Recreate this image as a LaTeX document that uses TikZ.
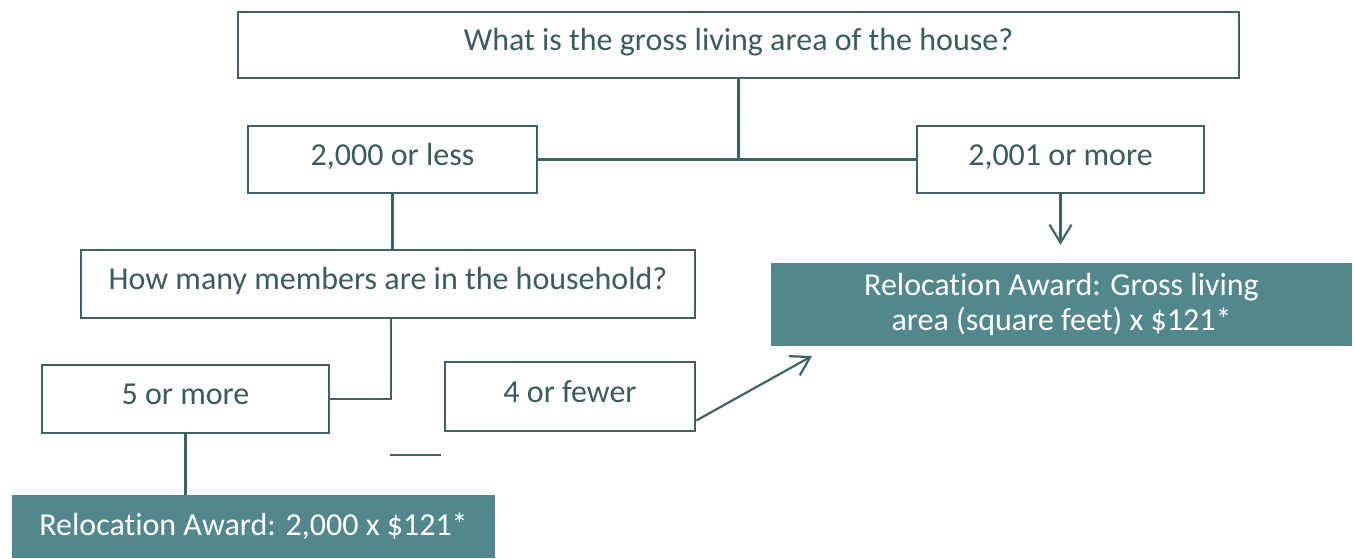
\documentclass[tikz,border=0pt]{standalone}
\usepackage{fontspec}
\setmainfont{Carlito}[Ligatures=CommonOff]
\usetikzlibrary{positioning,arrows.meta}
\definecolor{linec}{HTML}{3F6468}
\definecolor{txtc}{HTML}{3A5C60}
\definecolor{tealc}{HTML}{52878D}

\begin{document}
\begin{tikzpicture}[x=1pt, y=-1pt,
    box/.style={draw=linec, line width=2.6pt, fill=white, text=txtc,
        font=\fontsize{32}{39}\selectfont, inner sep=0pt,
        text height=21pt, text depth=10pt},
    award/.style={fill=tealc, text=white, align=center,
        font=\fontsize{32}{35}\selectfont, inner sep=0pt},
    link/.style={draw=linec, line width=2.2pt},
    ]
\useasboundingbox (0,0) rectangle (1354,558);

\node[box, minimum width=1001pt, minimum height=66pt] (area) at (738.5,45) {What is the gross living area of the house?};
\node[box, minimum width=289pt, minimum height=67pt] (less) at (392.5,159.5) {2,000 or less};
\node[box, minimum width=287pt, minimum height=67pt] (more) at (1060.5,159.5) {2,001 or more};
\node[box, minimum width=614pt, minimum height=68pt] (members) at (388,284) {How many members are in the household?};
\node[award, minimum width=581pt, minimum height=83pt] (awardR) at (1061.5,304.5) {Relocation Award: Gross living\\area (square feet) x \$121*};
\node[box, minimum width=287pt, minimum height=68pt] (five) at (185.5,399) {5 or more};
\node[box, minimum width=250pt, minimum height=69pt] (four) at (570,396.5) {4 or fewer};
\node[award, minimum width=483pt, minimum height=63pt] (awardL) at (253.5,526.5) {Relocation Award: 2,000 x \$121*};
\coordinate (tip) at (812,356);

\draw[link] (area.south) -- (area.south |- less.east);
\draw[link] (less.east) -- (more.west);
\draw[link] (less.south) -- (less.south |- members.north);
\draw[link, -{Straight Barb[length=18pt, width=22pt]}, shorten >=18pt] (more.south) -- (more.south |- awardR.north);
\draw[link] ([xshift=3pt]members.south) |- (five.east);
\draw[link] (five.south) -- (five.south |- awardL.north);
\draw[link, -{Straight Barb[length=18pt, width=22pt]}] ([yshift=-24pt]four.east) -- (tip);
\draw[link] (390,455) -- (441,455);

\end{tikzpicture}
\end{document}
